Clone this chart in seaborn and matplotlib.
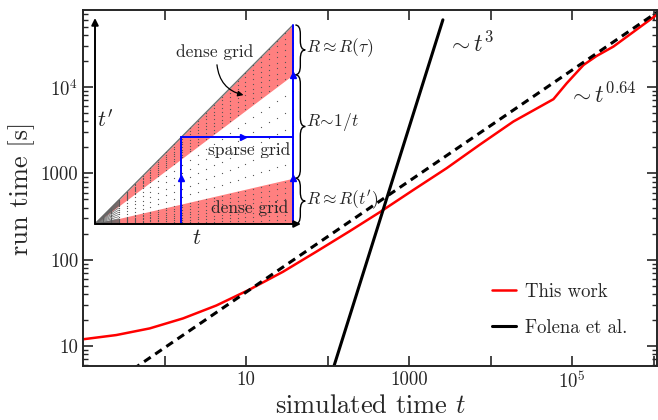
import matplotlib
matplotlib.use('Agg')
import matplotlib.pyplot as plt
from matplotlib.path import Path
from matplotlib.patches import PathPatch
import seaborn as sns

# main curves
work_t = [0.1, 0.256, 0.658, 1.69, 4.33, 11.1, 28.5, 73, 187, 437, 1130, 2900, 7430,
          1.9e4, 5.9e4, 8.6e4, 1.38e5, 2.0e5, 3.21e5, 1.1e6]
work_y = [11.97, 13.4, 16.0, 20.9, 29.5, 45.2, 72.6, 124, 214, 355, 643, 1150, 2160,
          3980, 7230, 1.107e4, 1.80e4, 2.29e4, 2.94e4, 6.9e4]
folena_t = [100, 2600]
folena_y = [3.4, 6.0e4]
fit_t = [0.3, 1.1e6]
fit_y = [4.4, 7.35e4]

x_ticks = [1, 10, 100, 1000, 1e4, 1e5, 1e6]
x_labels = ['', '10', '', '1000', '', '$10^5$', '']
y_ticks = [10, 100, 1000, 1e4]
y_labels = ['10', '100', '1000', '$10^4$']

# inset schematic (t, t' in units of the largest time)
band_hi = 0.75      # upper dense band: 0.75 t < t' < t
band_lo = 0.23      # lower dense band: 0 < t' < 0.23 t
t_box = 0.435
ray_slopes = [1.0, 0.97, 0.94, 0.91, 0.88, 0.85, 0.82, 0.79, 0.76,
              0.67, 0.58, 0.49, 0.40, 0.31,
              0.22, 0.19, 0.16, 0.13, 0.10, 0.07, 0.045, 0.02]
columns = [0.04, 0.08, 0.12, 0.16, 0.20, 0.24, 0.28, 0.32, 0.36, 0.40, 0.44, 0.48,
           0.52, 0.56, 0.60, 0.64, 0.68, 0.72, 0.76, 0.80, 0.84, 0.88, 0.92, 0.96, 1.0]

sns.set_style('ticks')
plt.rcParams['font.family'] = 'serif'
plt.rcParams['font.serif'] = ['cmr10']
plt.rcParams['mathtext.fontset'] = 'cm'
plt.rcParams['axes.unicode_minus'] = False

fig = plt.figure(figsize=(6.58, 4.2), dpi=100)
ax = fig.add_axes([83 / 658, 54 / 420, 574 / 658, 356 / 420])

sns.lineplot(x=work_t, y=work_y, ax=ax, color='#ff0000', lw=1.8, label='This work')
sns.lineplot(x=folena_t, y=folena_y, ax=ax, color='black', lw=2.2, label='Folena et al.')
ax.plot(fit_t, fit_y, color='black', lw=2.2, ls=(0, (2.6, 1.8)))

ax.set_xscale('log')
ax.set_yscale('log')
ax.set_xlim(0.1, 1.1e6)
ax.set_ylim(5.87, 7.8e4)
ax.set_xticks(x_ticks)
ax.set_xticklabels(x_labels)
ax.xaxis.set_minor_locator(matplotlib.ticker.NullLocator())
ax.set_yticks(y_ticks)
ax.set_yticklabels(y_labels)
ax.tick_params(which='both', direction='in', top=True, right=True, labelsize=13.5, width=1.2)
ax.tick_params(which='major', length=7)
ax.tick_params(which='minor', length=3.5, width=1)
for s in ax.spines.values():
    s.set_linewidth(1.4)
    s.set_visible(True)

ax.set_xlabel('simulated time $t$', fontsize=19, labelpad=2)
ax.set_ylabel('run time [s]', fontsize=19, labelpad=4)

ax.text(2920, 3.1e4, r'$\sim t^3$', fontsize=17, va='center', ha='left')
ax.text(8.9e4, 8.1e3, r'$\sim t^{0.64}$', fontsize=17, va='center', ha='left')

ax.legend(loc='upper left', bbox_to_anchor=(0.7125, 0.233), frameon=False, fontsize=13.5,
          borderpad=0, borderaxespad=0, handlelength=1.3, handletextpad=0.45,
          labelspacing=0.95)

# inset
ax_in = fig.add_axes([95 / 658, 196 / 420, 198 / 658, 199 / 420])
ax_in.set_xlim(0, 1)
ax_in.set_ylim(0, 1)
ax_in.set_facecolor('none')
ax_in.axis('off')

ax_in.fill_between([0, 1], [0, band_hi], [0, 1], color='#ff8080', lw=0)
ax_in.fill_between([0, 1], [0, 0], [0, band_lo], color='#ff8080', lw=0)
ax_in.plot([0, 1], [0, 1], color='#707070', lw=1)

for s in ray_slopes:
    ax_in.plot([0, 0.12], [0, 0.12 * s], color='#666666', lw=0.5)
    ax_in.plot(columns, [c * s for c in columns], ls='none', marker='o', ms=0.9,
               color='#555555', mec='none')

ax_in.annotate('', xy=(0, 1.035), xytext=(0, 0), annotation_clip=False,
               arrowprops=dict(arrowstyle='-|>', lw=1.4, color='black', shrinkA=0, shrinkB=0,
                               mutation_scale=10))
ax_in.annotate('', xy=(1.04, 0), xytext=(0, 0), annotation_clip=False,
               arrowprops=dict(arrowstyle='-|>', lw=1.4, color='black', shrinkA=0, shrinkB=0,
                               mutation_scale=10))

blue = '#0000ff'
ax_in.plot([t_box, t_box], [0, t_box], color=blue, lw=1.4, clip_on=False)
ax_in.plot([t_box, 1], [t_box, t_box], color=blue, lw=1.4, clip_on=False)
ax_in.plot([1, 1], [0, 1], color=blue, lw=1.4, clip_on=False)
ax_in.plot([t_box, 1, 1], [band_lo, band_lo, band_hi], ls='none', marker='^', ms=4,
           color=blue, clip_on=False)
ax_in.plot([0.747], [t_box], ls='none', marker='>', ms=4, color=blue, clip_on=False)


def brace(axx, x, y0, y1, w=0.05, q=0.045):
    ym = (y0 + y1) / 2
    xm = x + w / 2
    sgn = 1 if y1 > y0 else -1
    verts = [(x, y0), (xm, y0), (xm, y0 + sgn * q), (xm, ym - sgn * q), (xm, ym), (x + w, ym),
             (xm, ym), (xm, ym + sgn * q), (xm, y1 - sgn * q), (xm, y1), (x, y1)]
    codes = [Path.MOVETO, Path.CURVE3, Path.CURVE3, Path.LINETO, Path.CURVE3, Path.CURVE3,
             Path.CURVE3, Path.CURVE3, Path.LINETO, Path.CURVE3, Path.CURVE3]
    axx.add_patch(PathPatch(Path(verts, codes), fill=False, lw=1, color='black', clip_on=False))


brace(ax_in, 1.012, 1.0, band_hi)
brace(ax_in, 1.012, band_hi, band_lo)
brace(ax_in, 1.012, band_lo, 0.0)
ax_in.text(1.065, 0.884, r'$R\approx R(\tau)$', fontsize=12.5, va='center')
ax_in.text(1.065, 0.513, r'$R\!\sim\! 1/t$', fontsize=12.5, va='center')
ax_in.text(1.065, 0.116, r"$R\approx R(t')$", fontsize=12.5, va='center')

ax_in.text(0.606, 0.864, 'dense grid', fontsize=12.5, ha='center', va='center')
ax_in.text(0.778, 0.372, 'sparse grid', fontsize=12.5, ha='center', va='center')
ax_in.text(0.782, 0.08, 'dense grid', fontsize=12.5, ha='center', va='center')
ax_in.annotate('', xy=(0.75, 0.648), xytext=(0.616, 0.80),
               arrowprops=dict(arrowstyle='-|>', lw=0.9, color='black',
                               connectionstyle='arc3,rad=0.35', shrinkA=0, shrinkB=0,
                               mutation_scale=8))
ax_in.text(0.05, 0.52, "$t'$", fontsize=16, ha='center', va='center')
ax_in.text(0.515, -0.07, '$t$', fontsize=16, ha='center', va='center')

plt.savefig('out.png', dpi=100)
